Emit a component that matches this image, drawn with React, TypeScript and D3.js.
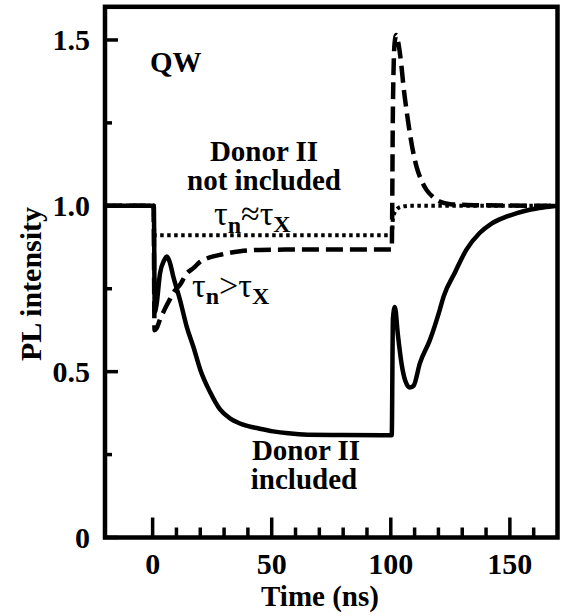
import React from "react";
import * as d3 from "d3";

// Time axis (ns)
const xTicksMajor = [0, 50, 100, 150];
const xTicksMinor = [10, 20, 30, 40, 60, 70, 80, 90, 110, 120, 130, 140, 160];
const yTicksMajor = [0, 0.5, 1.0, 1.5];
const yTickLabels = ["0", "0.5", "1.0", "1.5"];
const yTicksMinor = [0.25, 0.75, 1.25];

// Donor II included (solid)
const solidT = [-20, 0.5, 0.9, 1.6, 3.1, 4.8, 6, 7.2, 8.7, 11.5, 14.3, 17.1, 20, 24, 28.3, 33, 38, 45, 50.6, 57, 65, 80, 100.4, 100.9, 101.7, 103, 104.5, 106.2, 108, 109.6, 112.2, 116.4, 120.5, 122.2, 127, 131.7, 137.3, 142, 147, 153, 158.3, 164, 170];
const solidV = [1.0, 1.0, 0.68, 0.7, 0.796, 0.835, 0.847, 0.83, 0.786, 0.716, 0.636, 0.575, 0.506, 0.44, 0.386, 0.357, 0.34, 0.328, 0.32, 0.314, 0.31, 0.309, 0.308, 0.66, 0.695, 0.61, 0.525, 0.47, 0.452, 0.458, 0.525, 0.595, 0.685, 0.727, 0.8, 0.867, 0.918, 0.945, 0.963, 0.978, 0.988, 0.995, 1.0];

// Donor II not included, tau_n > tau_X (dashed)
const dashT = [-20, 0.4, 0.8, 1.6, 3, 5.2, 7, 9.4, 11.5, 14.3, 17.1, 19.9, 23, 28.3, 32, 36.7, 45, 60, 100.4, 100.9, 101.6, 102.3, 103.2, 104.5, 105.2, 106.6, 108, 110.8, 113, 115, 117.5, 120.5, 125, 135, 170];
const dashV = [1.0, 1.0, 0.625, 0.63, 0.655, 0.69, 0.715, 0.745, 0.762, 0.796, 0.812, 0.831, 0.842, 0.852, 0.858, 0.863, 0.867, 0.868, 0.868, 1.3, 1.49, 1.515, 1.49, 1.42, 1.369, 1.288, 1.219, 1.118, 1.075, 1.048, 1.028, 1.013, 1.005, 1.002, 1.0];

// Donor II not included, tau_n ~ tau_X (dotted)
const dotT = [-20, 0.4, 0.7, 100.4, 100.9, 102, 103.5, 105, 108, 170];
const dotV = [1.0, 1.0, 0.911, 0.911, 0.962, 0.985, 0.995, 0.998, 1.0, 1.0];

const W = 561;
const H = 616;
const FONT = "'Liberation Serif', 'Times New Roman', serif";

const x = d3.scaleLinear().domain([-20, 170]).range([105, 557.5]);
const y = d3.scaleLinear().domain([0, 1.6]).range([537.5, 6.8]);

const line = d3
  .line<[number, number]>()
  .x((d) => x(d[0]))
  .y((d) => y(d[1]))
  .curve(d3.curveMonotoneX);

const zip = (t: number[], v: number[]) => t.map((ti, i) => [ti, v[i]] as [number, number]);

export default function App() {
  const [x0, x1] = x.range();
  const [y0, y1] = y.range();
  const textStyle = { fontFamily: FONT, fontWeight: "bold" as const, fill: "#000" };
  return (
    <svg width={W} height={H} style={{ position: "absolute", left: 0, top: 0, background: "#fff" }}>
      <rect x={0} y={0} width={W} height={H} fill="#fff" />
      <defs>
        <clipPath id="plot">
          <rect x={x0} y={y1} width={x1 - x0} height={y0 - y1} />
        </clipPath>
      </defs>

      {/* curves */}
      <g clipPath="url(#plot)" fill="none" stroke="#000">
        <path d={line(zip(dotT, dotV)) || ""} strokeWidth={4} strokeDasharray="3.5,3.5" />
        <path d={line(zip(dashT, dashV)) || ""} strokeWidth={4.5} strokeDasharray="17,7" />
        <path d={line(zip(solidT, solidV)) || ""} strokeWidth={4.5} strokeLinejoin="round" />
      </g>

      {/* frame */}
      <rect x={x0} y={y1} width={x1 - x0} height={y0 - y1} fill="none" stroke="#000" strokeWidth={4.5} />

      {/* ticks */}
      <g stroke="#000" strokeWidth={3.5}>
        {xTicksMajor.map((t) => (
          <line key={"xM" + t} x1={x(t)} x2={x(t)} y1={y0} y2={y0 - 20} />
        ))}
        {xTicksMinor.map((t) => (
          <line key={"xm" + t} x1={x(t)} x2={x(t)} y1={y0} y2={y0 - 10} />
        ))}
        {yTicksMajor.map((v) => (
          <line key={"yM" + v} x1={x0} x2={x0 + 13} y1={y(v)} y2={y(v)} />
        ))}
        {yTicksMinor.map((v) => (
          <line key={"ym" + v} x1={x0} x2={x0 + 7} y1={y(v)} y2={y(v)} />
        ))}
      </g>

      {/* tick labels */}
      <g {...textStyle} fontSize={30}>
        {xTicksMajor.map((t) => (
          <text key={"xl" + t} x={x(t)} y={574} textAnchor="middle">
            {String(t)}
          </text>
        ))}
        {yTicksMajor.map((v, i) => (
          <text key={"yl" + v} x={90} y={y(v) + 10} textAnchor="end">
            {yTickLabels[i]}
          </text>
        ))}
      </g>

      {/* axis titles */}
      <text {...textStyle} fontSize={29} x={320} y={606} textAnchor="middle">
        Time (ns)
      </text>
      <text {...textStyle} fontSize={30} textAnchor="middle" transform="translate(41,284) rotate(-90)">
        PL intensity
      </text>

      {/* annotations */}
      <text {...textStyle} fontSize={29} x={150} y={72}>
        QW
      </text>
      <text {...textStyle} fontSize={29} x={264} y={161} textAnchor="middle">
        Donor II
      </text>
      <text {...textStyle} fontSize={29} x={264} y={190} textAnchor="middle">
        not included
      </text>
      <text {...textStyle} fontSize={29} x={306} y={460} textAnchor="middle">
        Donor II
      </text>
      <text {...textStyle} fontSize={29} x={304} y={489} textAnchor="middle">
        included
      </text>
      <text {...textStyle} fontSize={34} x={214} y={225} fontWeight="normal">
        τ<tspan fontSize={24} fontWeight="bold" dy={8}>n</tspan>
        <tspan dy={-8}>≈τ</tspan>
        <tspan fontSize={24} fontWeight="bold" dy={7}>X</tspan>
      </text>
      <text {...textStyle} fontSize={34} x={192} y={297} fontWeight="normal">
        τ<tspan fontSize={24} fontWeight="bold" dy={7}>n</tspan>
        <tspan dy={-7}>&gt;τ</tspan>
        <tspan fontSize={24} fontWeight="bold" dy={7}>X</tspan>
      </text>
    </svg>
  );
}
